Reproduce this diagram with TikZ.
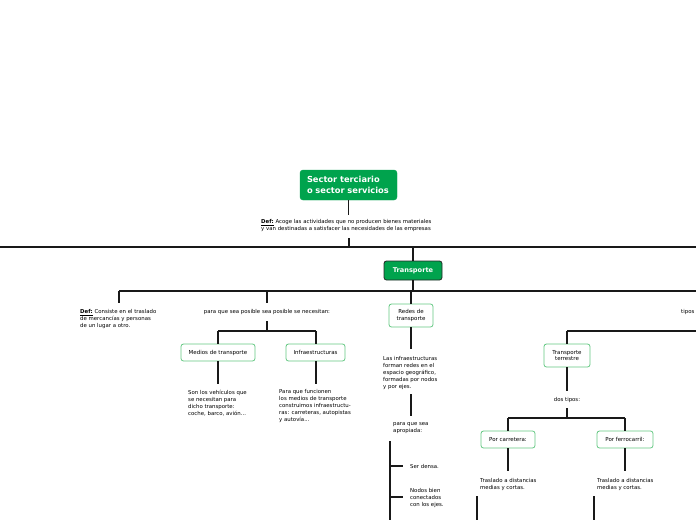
\documentclass[tikz,border=0pt]{standalone}
\usepackage{fontspec}
\setmainfont{DejaVu Sans}
\definecolor{mgreen}{RGB}{0,163,77}
\definecolor{lgreen}{RGB}{100,200,130}
\tikzset{
 root/.style={draw=mgreen, fill=mgreen, rounded corners=3pt, text=white, font=\fontsize{8.3}{10.5}\selectfont\bfseries, align=left, minimum width=97pt, minimum height=30pt, inner sep=0pt, text width=83pt},
 mainbox/.style={draw=black!85, fill=mgreen, rounded corners=2.5pt, text=white, font=\fontsize{6.6}{8}\selectfont\bfseries, minimum width=58pt, minimum height=19pt, inner sep=0pt, line width=0.8pt},
 subbox/.style={draw=lgreen, fill=white, rounded corners=2.5pt, font=\fontsize{5.5}{6.8}\selectfont, align=center, inner sep=0pt, line width=0.8pt},
 txt/.style={font=\fontsize{5.4}{6.9}\selectfont, align=left, inner sep=0pt, anchor=north west},
 ln/.style={line width=1.7pt, black!90},
}
\begin{document}
\begin{tikzpicture}[x=1pt,y=-1pt]
\path[use as bounding box] (0,0) rectangle (696,520);
\clip (0,0) rectangle (696,520);
% nodes
\node[root] (root) at (348.5,185) {Sector terciario\\o sector servicios};
\node[txt] (def1) at (261,219.3) {\underline{\textbf{Def:}} Acoge las actividades que no producen bienes materiales\\y van destinadas a satisfacer las necesidades de las empresas};
\node[mainbox] (trans) at (413,270.5) {Transporte};
\node[txt] (def2) at (80,309.3) {\underline{\textbf{Def:}} Consiste en el traslado\\de mercancías y personas\\de un lugar a otro.};
\node[txt, anchor=center] (para) at (267,312) {para que sea posible sea posible se necesitan:};
\node[subbox, minimum width=44pt, minimum height=23pt] (redes) at (411,315.5) {Redes de\\transporte};
\node[txt, anchor=west] (tipos) at (681,312) {tipos};
\node[subbox, minimum width=74pt, minimum height=17pt] (medios) at (218,352.5) {Medios de transporte};
\node[subbox, minimum width=59pt, minimum height=17pt] (infra) at (315.5,352.5) {Infraestructuras};
\node[txt] (medtxt) at (188,390.3) {Son los vehículos que\\se necesitan para\\dicho transporte:\\coche, barco, avión...};
\node[txt] (inftxt) at (279,389.3) {Para que funcionen\\los medios de transporte\\construimos infraestructu-\\ras: carreteras, autopistas\\y autovía...};
\node[txt] (redtxt) at (383,356.3) {Las infraestructuras\\forman redes en el\\espacio geográfico,\\formadas por nodos\\y por ejes.};
\node[txt] (apro) at (393,422.3) {para que sea\\apropiada:};
\node[txt, anchor=west] (densa) at (410,466) {Ser densa.};
\node[txt] (nodos) at (410,488.3) {Nodos bien\\conectados\\con los ejes.};
\node[subbox, minimum width=46pt, minimum height=23pt] (terr) at (567,355.5) {Transporte\\terrestre};
\node[txt, anchor=center] (dos) at (567,400) {dos tipos:};
\node[subbox, minimum width=54pt, minimum height=17pt] (carr) at (508,439.5) {Por carretera:};
\node[subbox, minimum width=56pt, minimum height=17pt] (ferro) at (625,439.5) {Por ferrocarril:};
\node[txt] (tras1) at (480,478.3) {Traslado a distancias\\medias y cortas.};
\node[txt] (tras2) at (597,478.3) {Traslado a distancias\\medias y cortas.};
% coordinates
\coordinate (busL) at (0,247);
\coordinate (busR) at (696,247);
\coordinate (bus2L) at (119,291);
\coordinate (bus2R) at (696,291);
\coordinate (bus3L) at (218,331);
\coordinate (bus3R) at (316,331);
\coordinate (bus4L) at (567,331);
\coordinate (bus4R) at (696,331);
\coordinate (bus5L) at (508,418);
\coordinate (bus5R) at (625,418);
\coordinate (brT) at (390,441);
\coordinate (brB) at (390,520);
\coordinate (c1) at (477,496);
\coordinate (c1b) at (477,520);
\coordinate (c2) at (594,496);
\coordinate (c2b) at (594,520);
% connectors
\draw[ln] (root.south) -- ++(0,15);
\draw[ln] (349,238) -- (349,247);
\draw[ln] (busL) -- (busR);
\draw[ln] (trans.north) -- (trans.north |- busL);
\draw[ln] (trans.south) -- (trans.south |- bus2L);
\draw[ln] (bus2L) -- (bus2R);
\draw[ln] (bus2L) -- ++(0,12);
\draw[ln] (para.north |- bus2L) -- ++(0,12);
\draw[ln] (redes.north) -- (redes.north |- bus2L);
\draw[ln] (267,321) -- (267,331);
\draw[ln] (bus3L) -- (bus3R);
\draw[ln] (bus3L) -- (medios.north);
\draw[ln] (bus3R) -- (infra.north -| bus3R);
\draw[ln] (medios.south) -- ++(0,23);
\draw[ln] (infra.south -| bus3R) -- ++(0,23);
\draw[ln] (redes.south) -- ++(0,22);
\draw[ln] (411,394) -- (411,416);
\draw[ln] (brT) -- (brB);
\draw[ln] (brT |- densa) -- ++(13,0);
\draw[ln] (390,497) -- ++(13,0);
\draw[ln] (bus4L) -- (bus4R);
\draw[ln] (bus4L) -- (terr.north);
\draw[ln] (terr.south) -- ++(0,24);
\draw[ln] (567,408) -- (567,418);
\draw[ln] (bus5L) -- (bus5R);
\draw[ln] (bus5L) -- (carr.north);
\draw[ln] (bus5R) -- (ferro.north);
\draw[ln] (carr.south) -- ++(0,23);
\draw[ln] (ferro.south) -- ++(0,23);
\draw[ln] (c1) -- (c1b);
\draw[ln] (c2) -- (c2b);
\end{tikzpicture}
\end{document}
